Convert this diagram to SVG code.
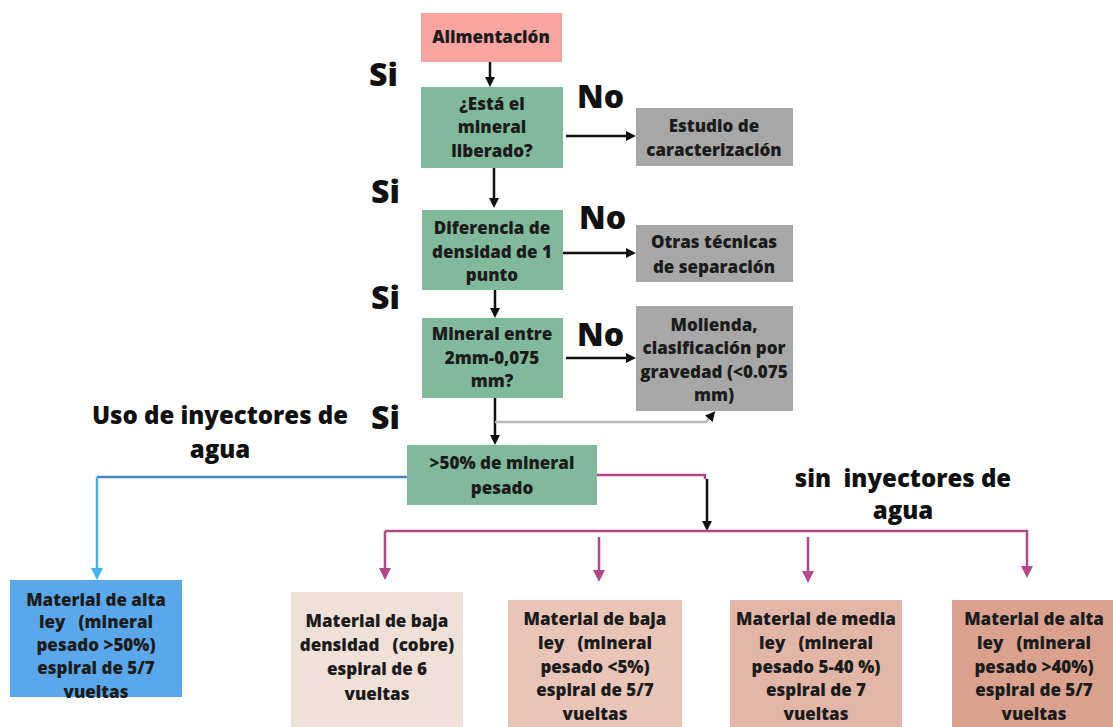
<svg xmlns="http://www.w3.org/2000/svg" width="1113" height="727" viewBox="0 0 1113 727">
<defs>
<style>
.t{font-family:"Open Sans","DejaVu Sans",sans-serif;font-weight:800;font-size:17px;fill:#1c1c1c;text-anchor:middle;white-space:pre}
.big{font-family:"Open Sans","DejaVu Sans",sans-serif;font-weight:800;font-size:32px;fill:#111}
.lab{font-family:"Open Sans","DejaVu Sans",sans-serif;font-weight:800;font-size:24px;fill:#111;text-anchor:middle;white-space:pre}
.green{fill:#80b99c}
.gray{fill:#a7a7a7}
.k{stroke:#111;stroke-width:2.5;fill:none}
.p{stroke:#b2478b;stroke-width:2.5;fill:none}
</style>
<marker id="ak" markerWidth="10" markerHeight="10" refX="5" refY="5" orient="auto" markerUnits="userSpaceOnUse"><path d="M0,0 L10,5 L0,10 z" fill="#111"/></marker>
<marker id="ap" markerWidth="12" markerHeight="12" refX="6" refY="6" orient="auto" markerUnits="userSpaceOnUse"><path d="M0,0 L12,6 L0,12 z" fill="#b2478b"/></marker>
<marker id="ab" markerWidth="12" markerHeight="12" refX="6" refY="6" orient="auto" markerUnits="userSpaceOnUse"><path d="M0,0 L12,6 L0,12 z" fill="#3eb4ea"/></marker>
<marker id="ag" markerWidth="10" markerHeight="10" refX="5" refY="5" orient="auto" markerUnits="userSpaceOnUse"><path d="M0,0 L10,5 L0,10 z" fill="#111"/></marker>
</defs>
<rect width="1113" height="727" fill="#ffffff"/>

<g id="connectors">
<path class="k" d="M490,62 L490,82" marker-end="url(#ak)"/>
<path class="k" d="M566,136 L631,136" marker-end="url(#ak)"/>
<path class="k" d="M494,168 L494,203" marker-end="url(#ak)"/>
<path class="k" d="M558,253 L631,253" marker-end="url(#ak)"/>
<path class="k" d="M495,270 L495,313" marker-end="url(#ak)"/>
<path class="k" d="M566,358 L631,358" marker-end="url(#ak)"/>
<path class="k" d="M495,398 L495,440" marker-end="url(#ak)"/>
<path d="M495,422 L706,422 L712,415" stroke="#b9b9b9" stroke-width="2.5" fill="none" marker-end="url(#ag)"/>
<path d="M407,477 L97,477" stroke="#4a86c2" stroke-width="2.5" fill="none"/>
<path d="M97,477 L97,574" stroke="#3eb4ea" stroke-width="2.5" fill="none" marker-end="url(#ab)"/>
<path class="p" d="M597,475 L705,475 L705,479"/>
<path class="k" d="M707,479 L707,526" marker-end="url(#ak)"/>
<path class="p" d="M385,531 L1027,531 L1027,572" marker-end="url(#ap)"/>
<path class="p" d="M385,531 L385,574" marker-end="url(#ap)"/>
<path class="p" d="M599,537 L599,576" marker-end="url(#ap)"/>
<path class="p" d="M808,537 L808,577" marker-end="url(#ap)"/>
</g>

<g id="labels">
<text class="big" x="369" y="86">Si</text>
<text class="big" x="371" y="203">Si</text>
<text class="big" x="371" y="309">Si</text>
<text class="big" x="371" y="429">Si</text>
<text class="big" x="577" y="108">No</text>
<text class="big" x="579" y="229">No</text>
<text class="big" x="577" y="346">No</text>
<text class="lab" x="220" y="424">Uso de inyectores de</text>
<text class="lab" x="220" y="458">agua</text>
<text class="lab" x="903" y="487">sin  inyectores de</text>
<text class="lab" x="903" y="519">agua</text>
</g>

<g id="n-alimentacion">
<rect x="421" y="13" width="141" height="49" fill="#f8a5a2"/>
<text class="t" x="491" y="43">Alimentación</text>
</g>
<g id="n-liberado">
<rect class="green" x="421" y="87" width="142" height="81"/>
<text class="t" x="492" y="110">¿Está el</text>
<text class="t" x="492" y="133">mineral</text>
<text class="t" x="492" y="157">liberado?</text>
</g>
<g id="n-estudio">
<rect class="gray" x="636" y="108" width="157" height="58"/>
<text class="t" x="714" y="132">Estudio de</text>
<text class="t" x="714" y="156">caracterización</text>
</g>
<g id="n-densidad">
<rect class="green" x="422" y="210" width="141" height="80"/>
<text class="t" x="492" y="234">Diferencia de</text>
<text class="t" x="492" y="258">densidad de 1</text>
<text class="t" x="492" y="281">punto</text>
</g>
<g id="n-otras">
<rect class="gray" x="636" y="225" width="157" height="57"/>
<text class="t" x="714" y="248">Otras técnicas</text>
<text class="t" x="714" y="273">de separación</text>
</g>
<g id="n-tamano">
<rect class="green" x="422" y="318" width="141" height="80"/>
<text class="t" x="492" y="340">Mineral entre</text>
<text class="t" x="492" y="364">2mm-0,075</text>
<text class="t" x="492" y="387">mm?</text>
</g>
<g id="n-molienda">
<rect class="gray" x="636" y="306" width="157" height="105"/>
<text class="t" x="714" y="331">Molienda,</text>
<text class="t" x="714" y="354">clasificación por</text>
<text class="t" x="714" y="378">gravedad (&lt;0.075</text>
<text class="t" x="714" y="401">mm)</text>
</g>
<g id="n-pesado">
<rect class="green" x="407" y="445" width="190" height="60"/>
<text class="t" x="502" y="469">&gt;50% de mineral</text>
<text class="t" x="502" y="494">pesado</text>
</g>

<g id="n-alta-azul">
<rect x="10" y="580" width="172" height="117" fill="#5aa8ea"/>
<text class="t" x="96" y="606">Material de alta</text>
<text class="t" x="96" y="628">ley   (mineral</text>
<text class="t" x="96" y="651">pesado &gt;50%)</text>
<text class="t" x="96" y="674">espiral de 5/7</text>
<text class="t" x="96" y="698">vueltas</text>
</g>
<g id="n-baja-densidad">
<rect x="291" y="592" width="172" height="135" fill="#efe0d8"/>
<text class="t" x="377" y="627">Material de baja</text>
<text class="t" x="377" y="651">densidad   (cobre)</text>
<text class="t" x="377" y="675">espiral de 6</text>
<text class="t" x="377" y="700">vueltas</text>
</g>
<g id="n-baja-ley">
<rect x="508" y="600" width="174" height="127" fill="#e8c5b7"/>
<text class="t" x="595" y="625">Material de baja</text>
<text class="t" x="595" y="649">ley   (mineral</text>
<text class="t" x="595" y="673">pesado &lt;5%)</text>
<text class="t" x="595" y="696">espiral de 5/7</text>
<text class="t" x="595" y="720">vueltas</text>
</g>
<g id="n-media-ley">
<rect x="730" y="600" width="172" height="127" fill="#e2b6a6"/>
<text class="t" x="816" y="625">Material de media</text>
<text class="t" x="816" y="649">ley   (mineral</text>
<text class="t" x="816" y="673">pesado 5-40 %)</text>
<text class="t" x="816" y="696">espiral de 7</text>
<text class="t" x="816" y="720">vueltas</text>
</g>
<g id="n-alta-ley">
<rect x="952" y="600" width="161" height="127" fill="#d9a18e"/>
<text class="t" x="1034" y="625">Material de alta</text>
<text class="t" x="1034" y="649">ley   (mineral</text>
<text class="t" x="1034" y="673">pesado &gt;40%)</text>
<text class="t" x="1034" y="696">espiral de 5/7</text>
<text class="t" x="1034" y="720">vueltas</text>
</g>
</svg>
